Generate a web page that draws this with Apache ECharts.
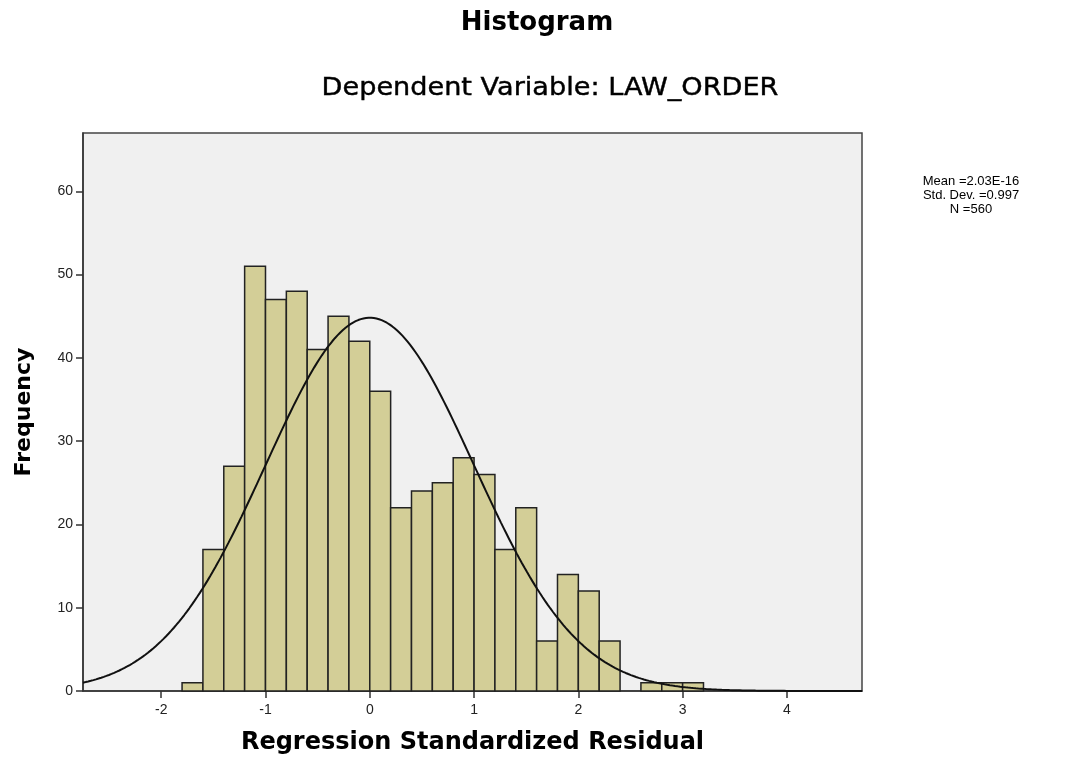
<!DOCTYPE html>
<html>
<head>
<meta charset="utf-8">
<script src="https://cdn.jsdelivr.net/npm/echarts@6/dist/echarts.min.js"></script>
<style>html,body{margin:0;padding:0;background:#fff}#c{width:1079px;height:782px}</style>
</head>
<body>
<div id="c"></div>
<script>
// ---- data ----
var binStarts = [-1.8,-1.6,-1.4,-1.2,-1.0,-0.8,-0.6,-0.4,-0.2,0.0,0.2,0.4,0.6,0.8,1.0,1.2,1.4,1.6,1.8,2.0,2.2,2.4,2.6,2.8,3.0];
var binCounts = [1,17,27,51,47,48,41,45,42,36,22,24,25,28,26,17,22,6,14,12,6,0,1,1,1];
var binWidth = 0.2;
var xTicks = [-2,-1,0,1,2,3,4];
var yTicks = [0,10,20,30,40,50,60];
var statMean = 2.03e-16;
var statSD = 0.997;
var statN = 560;
var statLines = ['Mean =2.03E-16', 'Std. Dev. =0.997', 'N =560'];
var titleText = 'Histogram';
var subtitleText = 'Dependent Variable: LAW_ORDER';
var xTitle = 'Regression Standardized Residual';
var yTitle = 'Frequency';

// normal curve overlay defined by the reported mean / sd / N
var curve = [];
for (var i = 0; i <= 300; i++) {
  var x = -2.75 + i * (4.72 + 2.75) / 300;
  var z = (x - statMean) / statSD;
  curve.push([x, statN * binWidth / (statSD * Math.sqrt(2 * Math.PI)) * Math.exp(-0.5 * z * z)]);
}
var bars = binStarts.map(function (s, k) { return [s, s + binWidth, binCounts[k]]; });

var chart = echarts.init(document.getElementById('c'));
var FONT = 'Liberation Sans';
var DJ = 'DejaVu Sans';
chart.setOption({
  animation: false,
  backgroundColor: '#fff',
  graphic: [
    {type: 'text', x: 537, y: 23, style: {text: titleText, font: 'bold 26px "DejaVu Sans"', fill: '#000', align: 'center', verticalAlign: 'middle'}},
    {type: 'text', x: 550, y: 89, scaleX: 1.13, style: {text: subtitleText, font: '24px "DejaVu Sans"', fill: '#000', stroke: '#000', lineWidth: 0.4, align: 'center', verticalAlign: 'middle'}},
    {type: 'text', x: 971, y: 195, style: {text: statLines.join('\n'), font: '13px "Liberation Sans"', lineHeight: 14, fill: '#000', align: 'center', verticalAlign: 'middle'}}
  ],
  grid: {left: 83, right: 217, top: 133, bottom: 91, show: true, backgroundColor: '#f0f0f0', borderColor: '#444', borderWidth: 1.5},
  xAxis: {
    type: 'value', min: -2.75, max: 4.72,
    name: xTitle, nameLocation: 'middle', nameGap: 40,
    nameTextStyle: {fontFamily: DJ, fontSize: 24, fontWeight: 'bold', color: '#000'},
    axisLine: {show: true, onZero: false, lineStyle: {color: '#333', width: 1.5}},
    axisTick: {show: true, length: 7, customValues: xTicks, lineStyle: {color: '#333', width: 1.5}},
    axisLabel: {customValues: xTicks, margin: 12, fontFamily: FONT, fontSize: 14, color: '#222'},
    splitLine: {show: false}
  },
  yAxis: {
    type: 'value', min: 0, max: 67,
    name: yTitle, nameLocation: 'middle', nameGap: 48, nameRotate: 90,
    nameTextStyle: {fontFamily: DJ, fontSize: 22, fontWeight: 'bold', color: '#000'},
    axisLine: {show: true, onZero: false, lineStyle: {color: '#333', width: 1.5}},
    axisTick: {show: true, length: 7, customValues: yTicks, lineStyle: {color: '#333', width: 1.5}},
    axisLabel: {customValues: yTicks, margin: 10, fontFamily: FONT, fontSize: 14, color: '#222'},
    splitLine: {show: false}
  },
  series: [
    {
      type: 'custom',
      data: bars,
      encode: {x: [0, 1], y: 2},
      renderItem: function (params, api) {
        if (api.value(2) <= 0) return null;
        var p0 = api.coord([api.value(0), 0]);
        var p1 = api.coord([api.value(1), api.value(2)]);
        return {
          type: 'rect',
          shape: {x: p0[0], y: p1[1], width: p1[0] - p0[0], height: p0[1] - p1[1]},
          style: {fill: '#d3ce97', stroke: '#222', lineWidth: 1.5}
        };
      },
      z: 2
    },
    {
      type: 'line', data: curve, showSymbol: false, smooth: false,
      lineStyle: {color: '#111', width: 2}, z: 3
    }
  ]
});
</script>
</body>
</html>
